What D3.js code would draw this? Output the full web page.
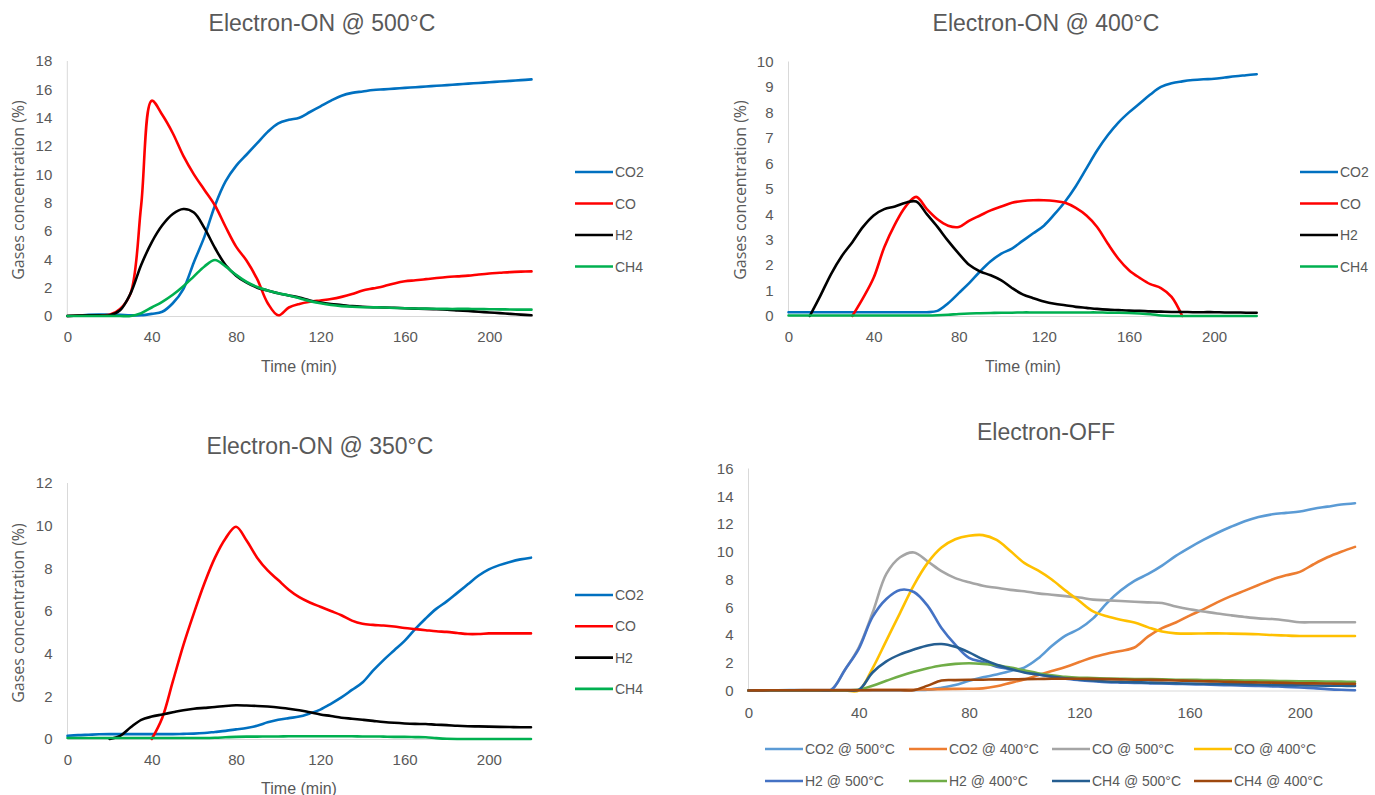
<!DOCTYPE html>
<html><head><meta charset="utf-8">
<script src="https://cdn.jsdelivr.net/npm/d3@7"></script>
<style>
html,body{margin:0;padding:0;background:#fff;}
svg text{font-family:"Liberation Sans",Arial,sans-serif;fill:#595959;}
</style></head>
<body>
<svg id="chart" width="1375" height="795"></svg>
<script>
// ---- data ----
const times = [0,5,10,15,20,25,30,35,40,45,50,55,60,65,70,75,80,85,90,95,100,105,110,115,120,125,130,135,140,145,150,155,160,165,170,175,180,185,190,195,200,205,210,215,220];
const xTickValues = [0,40,80,120,160,200];
const N = null;

// Electron-ON @ 500°C
const on500_CO2 = [0,0.03,0.08,0.1,0.1,0.08,0.05,0.05,0.15,0.3,0.9,1.9,3.8,5.6,7.8,9.5,10.6,11.4,12.2,13.0,13.6,13.85,14.0,14.4,14.8,15.2,15.55,15.75,15.85,15.95,16.0,16.05,16.1,16.15,16.2,16.25,16.3,16.35,16.4,16.45,16.5,16.55,16.6,16.65,16.7];
const on500_CO  = [0,0.03,0.05,0.05,0.08,0.5,1.6,7.8,15.2,14.2,12.9,11.3,10.0,8.9,7.8,6.3,4.9,3.9,2.6,0.9,0.05,0.6,0.85,1.0,1.1,1.2,1.35,1.55,1.8,1.95,2.1,2.3,2.45,2.52,2.6,2.68,2.75,2.8,2.85,2.93,3.0,3.05,3.1,3.13,3.15];
const on500_H2  = [0,0.03,0.05,0.05,0.05,0.4,1.6,3.6,5.2,6.4,7.2,7.55,7.3,6.2,4.8,3.6,2.85,2.35,2.0,1.8,1.6,1.45,1.3,1.1,0.95,0.85,0.78,0.7,0.65,0.62,0.6,0.58,0.55,0.52,0.5,0.48,0.45,0.4,0.35,0.3,0.25,0.2,0.15,0.1,0.05];
const on500_CH4 = [0,0,0,0,0,0,0,0.2,0.6,1.0,1.5,2.1,2.8,3.5,3.95,3.5,2.9,2.4,2.05,1.8,1.6,1.45,1.25,1.05,0.9,0.78,0.7,0.65,0.62,0.61,0.6,0.57,0.55,0.53,0.52,0.51,0.5,0.5,0.5,0.49,0.48,0.47,0.46,0.45,0.45];

// Electron-ON @ 400°C
const on400_CO2 = [0.15,0.15,0.15,0.15,0.15,0.15,0.15,0.15,0.15,0.15,0.15,0.15,0.15,0.15,0.2,0.5,0.9,1.3,1.75,2.15,2.45,2.65,2.95,3.25,3.55,4.0,4.5,5.1,5.8,6.5,7.1,7.6,8.0,8.35,8.7,9.0,9.15,9.22,9.27,9.3,9.32,9.37,9.42,9.46,9.5];
const on400_CO  = [N,N,N,N,N,N,0,0.7,1.5,2.7,3.6,4.3,4.68,4.2,3.8,3.55,3.5,3.75,3.95,4.15,4.3,4.45,4.52,4.55,4.55,4.52,4.45,4.25,3.95,3.5,2.85,2.25,1.8,1.5,1.25,1.1,0.75,0,N,N,N,N,N,N,N];
const on400_H2  = [N,N,0,0.8,1.65,2.35,2.9,3.5,3.95,4.2,4.3,4.45,4.5,4.0,3.5,2.95,2.45,2.0,1.75,1.6,1.4,1.1,0.85,0.7,0.57,0.48,0.42,0.36,0.32,0.28,0.25,0.23,0.21,0.2,0.18,0.17,0.16,0.16,0.15,0.15,0.15,0.14,0.14,0.13,0.13];
const on400_CH4 = [0.02,0.02,0.02,0.02,0.02,0.02,0.02,0.02,0.02,0.02,0.02,0.02,0.02,0.02,0.03,0.05,0.08,0.1,0.11,0.12,0.13,0.13,0.14,0.14,0.14,0.14,0.14,0.14,0.14,0.14,0.13,0.13,0.12,0.1,0.07,0.02,0,0,0,0,0,0,0,0,0];

// Electron-ON @ 350°C
const on350_CO2 = [0.15,0.18,0.2,0.22,0.23,0.23,0.23,0.23,0.23,0.23,0.23,0.24,0.25,0.28,0.33,0.38,0.45,0.52,0.62,0.78,0.9,0.98,1.05,1.2,1.38,1.65,1.95,2.3,2.65,3.2,3.7,4.15,4.6,5.15,5.65,6.1,6.45,6.85,7.25,7.65,7.95,8.15,8.3,8.42,8.5];
const on350_CO  = [N,N,N,N,N,N,N,N,0,1.0,2.7,4.4,5.9,7.3,8.5,9.4,9.95,9.3,8.5,7.9,7.45,7.0,6.65,6.4,6.2,6.0,5.8,5.55,5.4,5.35,5.32,5.27,5.2,5.15,5.1,5.05,5.02,4.97,4.92,4.92,4.95,4.95,4.95,4.95,4.95];
const on350_H2  = [N,N,N,N,0,0.15,0.55,0.9,1.05,1.15,1.25,1.35,1.42,1.46,1.5,1.55,1.58,1.57,1.55,1.52,1.48,1.42,1.35,1.25,1.15,1.08,1.0,0.95,0.9,0.85,0.8,0.76,0.73,0.71,0.7,0.67,0.65,0.62,0.6,0.59,0.58,0.57,0.56,0.55,0.55];
const on350_CH4 = [0.05,0.05,0.05,0.05,0.05,0.05,0.05,0.05,0.05,0.05,0.05,0.05,0.05,0.05,0.06,0.08,0.1,0.11,0.11,0.12,0.12,0.13,0.13,0.13,0.13,0.13,0.13,0.13,0.12,0.12,0.11,0.1,0.1,0.09,0.08,0.04,0.01,0,0,0,0,0,0,0,0];

// Electron-OFF
const off_CO2_500 = [0,0.01,0.02,0.03,0.03,0.03,0.03,0.03,0.03,0.03,0.03,0.03,0.04,0.05,0.2,0.4,0.7,0.95,1.15,1.4,1.65,2.3,3.2,3.95,4.45,5.2,6.3,7.2,7.9,8.4,9.0,9.7,10.3,10.85,11.35,11.8,12.2,12.5,12.7,12.8,12.9,13.1,13.25,13.4,13.5];
const off_CO2_400 = [0,0.01,0.02,0.02,0.03,0.03,0.03,0.04,0.04,0.05,0.05,0.05,0.05,0.08,0.1,0.12,0.13,0.15,0.3,0.55,0.8,1.1,1.4,1.7,2.05,2.4,2.65,2.85,3.1,3.9,4.5,4.9,5.4,5.85,6.35,6.8,7.2,7.6,8.0,8.3,8.55,9.1,9.6,10.0,10.35];
const off_CO_500  = [0,0.01,0.02,0.02,0.02,0.02,0.05,1.5,3.1,5.6,8.4,9.6,9.95,9.3,8.6,8.1,7.8,7.55,7.4,7.25,7.15,7.0,6.9,6.8,6.7,6.55,6.5,6.45,6.4,6.35,6.3,6.05,5.85,5.7,5.55,5.42,5.3,5.2,5.15,5.05,4.92,4.92,4.92,4.92,4.92];
const off_CO_400  = [0,0,0,0,0,0,0,0,0,1.6,3.6,5.6,7.6,9.2,10.3,10.9,11.15,11.2,10.85,10.05,9.2,8.65,8.0,7.2,6.45,5.7,5.35,5.1,4.9,4.55,4.25,4.12,4.1,4.11,4.12,4.1,4.08,4.05,4.0,3.96,3.93,3.93,3.93,3.93,3.93];
const off_H2_500  = [0,0.01,0.02,0.02,0.02,0.02,0.05,1.5,3.0,5.3,6.6,7.25,7.1,6.1,4.5,3.3,2.35,2.05,1.72,1.55,1.35,1.15,1.0,0.85,0.75,0.67,0.6,0.57,0.55,0.52,0.5,0.48,0.45,0.43,0.4,0.38,0.35,0.33,0.3,0.26,0.22,0.17,0.1,0.05,0.02];
const off_H2_400  = [0,0.01,0.02,0.02,0.02,0.02,0.02,0.02,0.05,0.35,0.7,1.05,1.35,1.6,1.8,1.92,1.96,1.92,1.82,1.65,1.45,1.25,1.1,0.98,0.92,0.9,0.87,0.85,0.83,0.82,0.8,0.78,0.77,0.76,0.75,0.73,0.72,0.71,0.7,0.68,0.67,0.66,0.65,0.64,0.63];
const off_CH4_500 = [0,0.01,0.02,0.02,0.02,0.02,0.02,0.02,0.05,1.3,2.1,2.6,2.95,3.25,3.35,3.15,2.75,2.25,1.85,1.55,1.3,1.15,1.0,0.88,0.8,0.72,0.65,0.62,0.6,0.57,0.55,0.52,0.5,0.49,0.48,0.46,0.45,0.43,0.4,0.39,0.38,0.36,0.35,0.34,0.33];
const off_CH4_400 = [0,0.01,0.02,0.02,0.02,0.02,0.02,0.02,0.02,0.02,0.02,0.02,0.02,0.35,0.72,0.75,0.77,0.78,0.8,0.8,0.82,0.83,0.85,0.85,0.85,0.84,0.82,0.8,0.78,0.77,0.75,0.72,0.7,0.67,0.65,0.62,0.6,0.58,0.57,0.55,0.52,0.51,0.5,0.49,0.48];

const onNames = ["CO2","CO","H2","CH4"];
const offNames = ["CO2 @ 500°C","CO2 @ 400°C","CO @ 500°C","CO @ 400°C","H2 @ 500°C","H2 @ 400°C","CH4 @ 500°C","CH4 @ 400°C"];
const titles = ["Electron-ON @ 500°C","Electron-ON @ 400°C","Electron-ON @ 350°C","Electron-OFF"];
const onColors = ["#0070C0","#FF0000","#000000","#00B050"];
const offColors = ["#5B9BD5","#ED7D31","#A5A5A5","#FFC000","#4472C4","#70AD47","#255E91","#9E480E"];

// ---- drawing ----
const svg = d3.select("#chart");

function drawPanel(p){
  const g = svg.append("g");
  const x = d3.scaleLinear().domain([0,220]).range(p.xr);
  const y = d3.scaleLinear().domain(p.yd).range(p.yr);

  // axis lines
  g.append("line").attr("x1",p.xr[0]).attr("x2",p.xr[0]).attr("y1",p.yr[0]).attr("y2",p.yr[1])
    .attr("stroke","#D9D9D9").attr("stroke-width",1);
  g.append("line").attr("x1",p.xr[0]).attr("x2",p.xr[1]).attr("y1",p.yr[0]+0.5).attr("y2",p.yr[0]+0.5)
    .attr("stroke","#D9D9D9").attr("stroke-width",1);

  const ya = g.append("g").attr("transform",`translate(${p.xr[0]},0)`)
    .call(d3.axisLeft(y).tickValues(p.yt).tickSize(0).tickPadding(15).tickFormat(d3.format("d")));
  ya.select(".domain").remove();
  ya.selectAll("text").style("font-family","'Liberation Sans',Arial,sans-serif").style("font-size","15px").attr("fill","#595959");

  const xa = g.append("g").attr("transform",`translate(0,${p.yr[0]})`)
    .call(d3.axisBottom(x).tickValues(xTickValues).tickSize(0).tickFormat(d3.format("d")));
  xa.select(".domain").remove();
  xa.selectAll("text").attr("y",p.xlab).attr("dy","0.35em")
    .style("font-family","'Liberation Sans',Arial,sans-serif").style("font-size","15px").attr("fill","#595959");

  // title
  g.append("text").attr("x",p.title[0]).attr("y",p.title[1]).attr("text-anchor","middle")
    .attr("dominant-baseline","central").style("font-size","23px").text(p.titleText);
  if(p.xt){
    g.append("text").attr("x",p.xt[0]).attr("y",p.xt[1]).attr("text-anchor","middle")
      .attr("dominant-baseline","central").style("font-size","16px").text("Time (min)");
  }
  if(p.yl){
    g.append("text").attr("transform",`translate(${p.yl[0]},${p.yl[1]}) rotate(-90)`)
      .attr("text-anchor","middle").attr("dominant-baseline","central")
      .style("font-family","'Open Sans',sans-serif").style("font-size","16px")
      .text("Gases concentration (%)");
  }

  const line = d3.line()
    .defined(d => d[1] !== null)
    .x(d => x(d[0])).y(d => y(d[1]))
    .curve(d3.curveCatmullRom.alpha(0.5));

  p.series.forEach((s,i) => {
    const pts = times.map((t,k) => [t, s[k]]);
    g.append("path").datum(pts).attr("d",line).attr("fill","none")
      .attr("stroke",p.colors[i]).attr("stroke-width",2.6)
      .attr("stroke-linejoin","round").attr("stroke-linecap","round");
  });

  // legend
  p.names.forEach((n,i) => {
    const [lx,ly] = p.leg(i);
    g.append("line").attr("x1",lx).attr("x2",lx+38).attr("y1",ly).attr("y2",ly)
      .attr("stroke",p.colors[i]).attr("stroke-width",2.6);
    g.append("text").attr("x",lx+40).attr("y",ly).attr("dominant-baseline","central")
      .style("font-size","14px").text(n);
  });
}

drawPanel({
  xr:[67.3,531.5], yr:[316,61], yd:[0,18], yt:d3.range(0,19,2), xlab:21,
  title:[322,23], titleText:titles[0], xt:[299,366], yl:[18,190],
  series:[on500_CO2,on500_CO,on500_H2,on500_CH4], colors:onColors, names:onNames,
  leg:i => [575, 172 + i*31.5]
});
drawPanel({
  xr:[788.5,1256.7], yr:[316,61.5], yd:[0,10], yt:d3.range(0,11,1), xlab:21,
  title:[1046,23], titleText:titles[1], xt:[1023,366], yl:[740,190],
  series:[on400_CO2,on400_CO,on400_H2,on400_CH4], colors:onColors, names:onNames,
  leg:i => [1300, 172 + i*31.5]
});
drawPanel({
  xr:[67.5,531], yr:[739,483], yd:[0,12], yt:d3.range(0,13,2), xlab:21,
  title:[320,446], titleText:titles[2], xt:[299,788], yl:[18,613],
  series:[on350_CO2,on350_CO,on350_H2,on350_CH4], colors:onColors, names:onNames,
  leg:i => [575, 595 + i*31.3]
});
drawPanel({
  xr:[748.5,1355], yr:[690.5,468.5], yd:[0,16], yt:d3.range(0,17,2), xlab:22.5,
  title:[1046,432], titleText:titles[3], xt:null, yl:null,
  series:[off_CO2_500,off_CO2_400,off_CO_500,off_CO_400,off_H2_500,off_H2_400,off_CH4_500,off_CH4_400],
  colors:offColors, names:offNames,
  leg:i => [[765,909,1052,1194][i%4], i<4 ? 749 : 781]
});
</script>
</body></html>
